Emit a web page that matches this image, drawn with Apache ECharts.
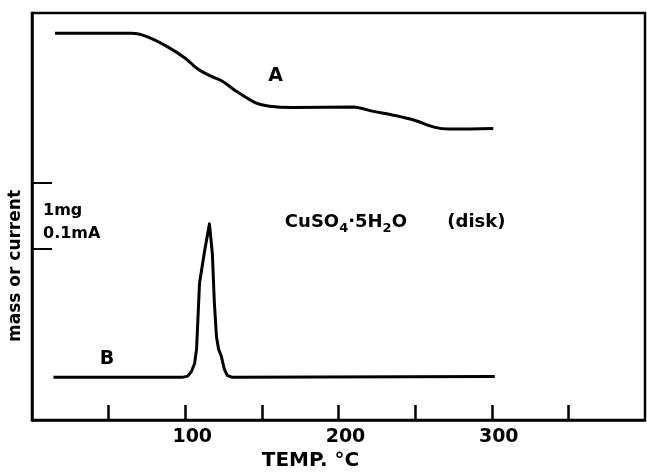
<!DOCTYPE html>
<html><head><meta charset="utf-8">
<script src="https://cdn.jsdelivr.net/npm/echarts@6/dist/echarts.min.js"></script>
<style>html,body{margin:0;padding:0;background:#fff}#c{width:647px;height:476px}</style>
</head><body><div id="c"></div>
<script>
// Curve A: mass (TG)
const tempA = [15,65,75,88,100,108,116,124,134,146,155,170,210,222,237,250,263,272,301];
const massA = [95,95,94.2,91.8,88.9,86.3,84.6,83.3,80.6,77.9,77.1,76.8,76.9,75.9,74.8,73.6,71.9,71.5,71.6];
// Curve B: current
const tempB = [14,98,101.6,104.1,106.1,107.4,109.3,112.6,115.8,117.7,119,120.4,121.7,123.6,125.5,127.4,130.7,302];
const currentB = [10.5,10.5,10.8,12.0,13.9,17.5,33.6,41.5,48.2,40.8,28.8,20.4,17.5,15.6,12.5,11.0,10.5,10.7];
// axis ticks
const xTicks = [50,100,150,200,250,300,350];
const xTickLabels = [100,200,300];
const yScaleBar = [42.2,58.3];
const yScaleLabelAt = [48.6];
const yScaleText = '1mg\n0.1mA';

const chart = echarts.init(document.getElementById('c'), null, {renderer:'canvas'});
const font = 'DejaVu Sans';
chart.setOption({
  animation:false,
  backgroundColor:'#fff',
  grid:{left:32,right:2,top:13,bottom:46,show:true,borderColor:'#000',borderWidth:2.5},
  xAxis:{type:'value',min:0,max:400,
    axisLine:{lineStyle:{color:'#000',width:2.5}},
    axisTick:{inside:true,length:15,customValues:xTicks,lineStyle:{color:'#000',width:2.5}},
    axisLabel:{customValues:xTickLabels,color:'#000',fontFamily:font,fontSize:19,fontWeight:'bold',margin:7,padding:[0,0,0,14]},
    splitLine:{show:false},
    name:'TEMP. °C',nameLocation:'middle',nameGap:27,
    nameTextStyle:{color:'#000',fontFamily:font,fontSize:20,fontWeight:'bold',padding:[0,56,0,0]}
  },
  yAxis:{type:'value',min:0,max:100,
    axisLine:{lineStyle:{color:'#000',width:2.5}},
    axisTick:{inside:true,length:20,customValues:yScaleBar,lineStyle:{color:'#000',width:2}},
    axisLabel:{customValues:yScaleLabelAt,inside:true,margin:11,formatter:()=>yScaleText,
      color:'#000',fontFamily:font,fontSize:16,fontWeight:'bold',lineHeight:23},
    splitLine:{show:false}
  },
  series:[
    {type:'line',data:tempA.map((t,i)=>[t,massA[i]]),showSymbol:false,smooth:0.25,
      lineStyle:{color:'#000',width:3}},
    {type:'line',data:tempB.map((t,i)=>[t,currentB[i]]),showSymbol:false,
      lineStyle:{color:'#000',width:3,join:'round'}}
  ]
});
const pA = chart.convertToPixel({gridIndex:0},[159,84.4]);
const pB = chart.convertToPixel({gridIndex:0},[49,15.1]);
const pT = chart.convertToPixel({gridIndex:0},[165,48.7]);
const pD = chart.convertToPixel({gridIndex:0},[271,48.7]);
chart.setOption({graphic:[
  {type:'text',x:pA[0],y:pA[1],style:{text:'A',fill:'#000',font:'bold 19px "DejaVu Sans"',align:'center',verticalAlign:'middle'}},
  {type:'text',x:pB[0],y:pB[1],style:{text:'B',fill:'#000',font:'bold 19px "DejaVu Sans"',align:'center',verticalAlign:'middle'}},
  {type:'text',x:pT[0],y:pT[1],style:{text:'CuSO{s|4}·5H{s|2}O',fill:'#000',font:'bold 18px "DejaVu Sans"',verticalAlign:'middle',
    rich:{s:{fontSize:13,fontWeight:'bold',fontFamily:font,padding:[13,0,0,0]}}}},
  {type:'text',x:pD[0],y:pD[1],style:{text:'(disk)',fill:'#000',font:'bold 18px "DejaVu Sans"',verticalAlign:'middle'}},
  {type:'text',x:16,y:266,rotation:Math.PI/2,style:{text:'mass or current',fill:'#000',font:'bold 17px "DejaVu Sans"',align:'center',verticalAlign:'middle'}}
]});
</script></body></html>
